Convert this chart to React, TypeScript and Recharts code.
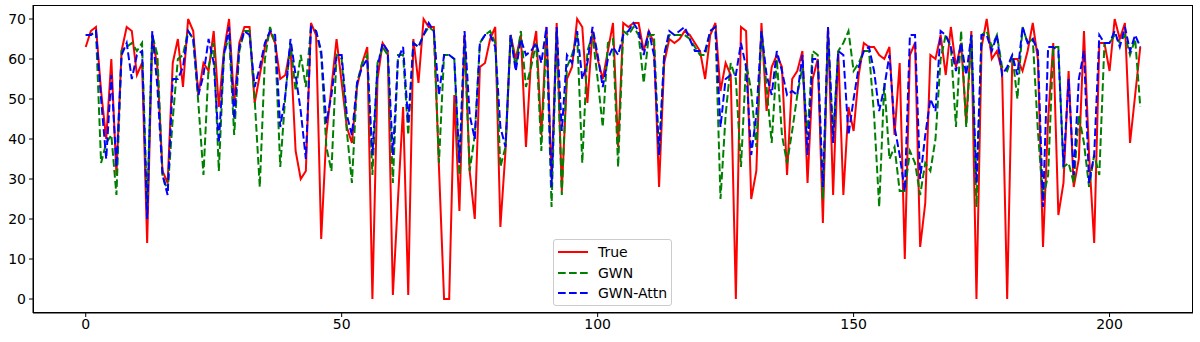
import React from 'react';
import { LineChart, Line, XAxis, YAxis, Legend } from 'recharts';

// values, index 0..206
const trueVals = [
  63, 67, 68, 52, 40, 60, 31, 62, 68, 67, 56, 59, 14, 66, 58, 32, 29, 59, 65, 53,
  70, 67, 51, 59, 57, 67, 48, 62, 70, 49, 64, 68, 68, 49, 56, 63, 67, 64, 55, 56,
  63, 37, 30, 32, 69, 66, 15, 41, 53, 65, 54, 43, 39, 53, 59, 63, 0, 55, 64, 62,
  1, 25, 48, 1, 65, 54, 70, 68, 68, 33, 0, 0, 51, 22, 66, 32, 20, 58, 59, 65,
  68, 18, 37, 66, 60, 66, 38, 60, 67, 41, 68, 30, 69, 27, 55, 58, 70, 68, 49, 67,
  60, 55, 62, 69, 38, 69, 68, 69, 69, 62, 67, 64, 28, 59, 65, 64, 65, 67, 66, 64,
  62, 55, 66, 69, 52, 59, 56, 0, 68, 67, 25, 32, 69, 47, 58, 61, 58, 31, 55, 57,
  62, 29, 55, 60, 19, 68, 26, 62, 26, 48, 42, 56, 64, 63, 63, 61, 60, 63, 41, 59,
  10, 61, 64, 13, 24, 61, 60, 66, 56, 68, 58, 64, 44, 67, 0, 63, 70, 60, 62, 57,
  0, 60, 60, 57, 62, 69, 60, 13, 45, 64, 21, 29, 57, 28, 35, 67, 36, 14, 64, 64,
  57, 70, 65, 69, 39, 51, 63,
];

const gwnVals = [
  66, 66, 67, 34, 39, 41, 26, 62, 63, 64, 62, 64, 23, 66, 61, 31, 27, 45, 60, 61,
  67, 65, 49, 31, 58, 64, 32, 61, 66, 41, 62, 67, 67, 50, 28, 60, 68, 64, 33, 51,
  64, 52, 61, 53, 68, 67, 61, 38, 32, 61, 60, 42, 29, 54, 59, 61, 31, 59, 63, 61,
  29, 61, 61, 41, 64, 63, 66, 68, 67, 34, 61, 61, 60, 31, 65, 32, 41, 64, 66, 67,
  64, 33, 38, 66, 58, 67, 53, 58, 64, 37, 66, 23, 67, 26, 58, 61, 66, 34, 62, 66,
  55, 43, 64, 65, 33, 67, 66, 68, 66, 54, 66, 66, 36, 61, 66, 66, 66, 66, 65, 63,
  61, 61, 67, 68, 25, 46, 59, 55, 33, 59, 52, 38, 67, 53, 39, 60, 41, 34, 42, 51,
  58, 41, 62, 61, 25, 66, 41, 62, 64, 67, 57, 59, 62, 62, 46, 23, 54, 35, 38, 27,
  27, 37, 34, 26, 34, 32, 40, 60, 66, 63, 43, 67, 43, 66, 23, 66, 67, 63, 66, 58,
  57, 61, 50, 68, 64, 65, 42, 25, 31, 63, 63, 33, 34, 29, 46, 39, 28, 36, 31, 64,
  64, 66, 64, 66, 61, 65, 48,
];

const attnVals = [
  66, 66, 67, 50, 35, 56, 33, 61, 64, 55, 61, 62, 20, 67, 53, 31, 26, 55, 55, 58,
  67, 65, 51, 56, 65, 59, 39, 61, 68, 45, 63, 67, 66, 53, 58, 64, 67, 66, 43, 51,
  65, 56, 47, 35, 68, 67, 62, 44, 51, 61, 61, 46, 41, 54, 58, 60, 36, 58, 64, 62,
  36, 60, 63, 44, 64, 63, 66, 69, 67, 51, 61, 61, 60, 34, 67, 46, 40, 64, 66, 66,
  63, 43, 38, 66, 57, 65, 61, 62, 64, 59, 68, 28, 68, 42, 61, 59, 67, 55, 59, 68,
  61, 53, 60, 63, 61, 66, 67, 69, 67, 61, 67, 61, 36, 61, 67, 66, 67, 68, 65, 62,
  62, 62, 67, 68, 43, 55, 56, 56, 64, 58, 36, 46, 67, 56, 51, 62, 57, 51, 52, 51,
  61, 36, 60, 60, 28, 68, 39, 62, 61, 41, 50, 58, 62, 63, 57, 47, 53, 61, 43, 36,
  27, 66, 66, 30, 41, 50, 47, 67, 66, 63, 57, 64, 56, 66, 29, 66, 66, 62, 66, 56,
  58, 61, 56, 68, 64, 65, 62, 23, 63, 63, 62, 33, 55, 31, 55, 62, 29, 36, 66, 64,
  64, 67, 63, 68, 62, 66, 63,
];

const xTicks = [0, 50, 100, 150, 200];
const yTicks = [0, 10, 20, 30, 40, 50, 60, 70];

const seriesInfo = [
  { key: 'true', name: 'True', color: '#ff0000', dash: undefined },
  { key: 'gwn', name: 'GWN', color: '#008000', dash: '7.7 3.3' },
  { key: 'attn', name: 'GWN-Attn', color: '#0000ff', dash: '7.7 3.3' },
];

const data = trueVals.map((v, i) => ({
  idx: i,
  true: v,
  gwn: gwnVals[i],
  attn: attnVals[i],
}));

const font = '"DejaVu Sans", sans-serif';

const LegendBox = () => (
  <div
    style={{
      width: 119,
      height: 67,
      border: '1px solid #cccccc',
      borderRadius: 3,
      background: 'rgba(255,255,255,0.8)',
      fontFamily: font,
      fontSize: 14,
      color: '#000',
      boxSizing: 'border-box',
      paddingTop: 2,
    }}
  >
    {seriesInfo.map((s) => (
      <div key={s.key} style={{ display: 'flex', alignItems: 'center', height: 20.5 }}>
        <svg width={44} height={10}>
          <line
            x1={4}
            x2={34}
            y1={5}
            y2={5}
            stroke={s.color}
            strokeWidth={2}
            strokeDasharray={s.dash}
          />
        </svg>
        <span>{s.name}</span>
      </div>
    ))}
  </div>
);

export default function App() {
  return (
    <div style={{ position: 'absolute', left: 0, top: 0, width: 1200, height: 342, background: '#fff' }}>
      <LineChart
        width={1200}
        height={342}
        data={data}
        margin={{ top: 5, right: 7, bottom: 0, left: 0 }}
      >
        <XAxis
          dataKey="idx"
          type="number"
          domain={[-10.3, 216.3]}
          ticks={xTicks}
          allowDataOverflow
          stroke="#000"
          tickSize={4}
          tickMargin={2}
          height={29}
          tick={{ fill: '#000', fontSize: 14, fontFamily: font }}
        />
        <YAxis
          type="number"
          domain={[-3.5, 73.5]}
          ticks={yTicks}
          allowDataOverflow
          stroke="#000"
          width={33}
          tickSize={4}
          tickMargin={3}
          tick={{ fill: '#000', fontSize: 14, fontFamily: font }}
        />
        <Legend
          layout="horizontal"
          verticalAlign="middle"
          align="center"
          content={() => <LegendBox />}
          wrapperStyle={{ position: 'absolute', left: 553, top: 239, width: 119, height: 67 }}
        />
        {seriesInfo.map((s) => (
          <Line
            key={s.key}
            dataKey={s.key}
            name={s.name}
            type="linear"
            stroke={s.color}
            strokeWidth={2}
            strokeDasharray={s.dash}
            dot={false}
            activeDot={false}
            isAnimationActive={false}
          />
        ))}
      </LineChart>
      {/* matplotlib-style frame around the plot area */}
      <div
        style={{
          position: 'absolute',
          left: 33,
          top: 5,
          width: 1160,
          height: 308,
          border: '1px solid #000',
          boxSizing: 'border-box',
          pointerEvents: 'none',
        }}
      />
    </div>
  );
}
